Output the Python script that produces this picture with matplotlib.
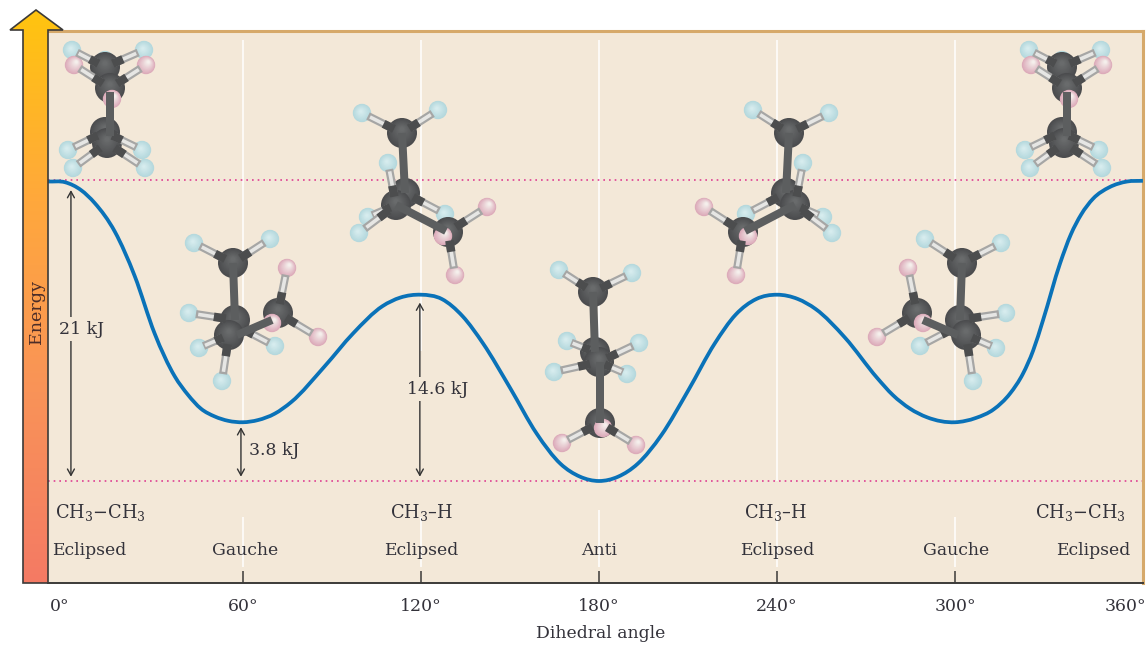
import matplotlib
matplotlib.use("Agg")
import matplotlib.pyplot as plt
import numpy as np
from matplotlib.colors import LinearSegmentedColormap, to_rgb
from matplotlib.patches import Circle, PathPatch, Polygon
from matplotlib.path import Path

plt.rcParams['font.family'] = ['DejaVu Serif']

# curve
angles = [-5.7, 0, 5.4, 10, 16.8, 23.5, 30.2, 37, 41.5, 45.8, 50.5, 55, 60, 65, 70.7, 76.2, 87.5, 97.1,
          107, 113, 120, 127, 134, 140.9, 150, 159, 167, 173.6, 180, 186.4, 193, 201, 210, 219, 226, 233, 240,
          247, 253, 262.9, 273.7, 279, 284.8, 290.5, 300, 307, 313, 318.5, 322.9, 326.3, 329.6, 335.4,
          339, 342.5, 346.5, 352, 358, 363.3]
energy = [20.9, 20.85, 20.3, 19.4, 17.4, 14.3, 10.3, 7.3, 6.0, 5.05, 4.5, 4.2, 4.1, 4.25, 4.7, 5.5, 8.0, 10.3,
          12.2, 12.8, 13.0, 12.7, 11.5, 9.6, 6.5, 3.3, 1.2, 0.3, 0.0, 0.3, 1.2, 3.2, 6.3, 9.6, 11.6, 12.7, 13.0,
          12.7, 12.0, 10.0, 7.2, 6.0, 5.05, 4.45, 4.1, 4.4, 5.0, 6.1, 7.5, 9.1, 11.2, 15.2,
          17.2, 18.6, 19.7, 20.5, 20.9, 20.95]

tick_pos = [-1.7, 60, 120, 180, 240, 300, 357.3]
tick_labels = ["0°", "60°", "120°", "180°", "240°", "300°", "360°"]
conformers = ["Eclipsed", "Gauche", "Eclipsed", "Anti", "Eclipsed", "Gauche", "Eclipsed"]
conformer_pos = [8.3, 60.7, 120, 180, 240, 300.3, 346.5]
groups = ["CH$_{\\mathregular{3}}$−CH$_{\\mathregular{3}}$", "CH$_{\\mathregular{3}}$–H",
          "CH$_{\\mathregular{3}}$–H", "CH$_{\\mathregular{3}}$−CH$_{\\mathregular{3}}$"]
group_pos = [11.8, 120, 239.5, 342.3]

BG = "#f3e8d8"
INK = "#33323a"
W, H = 1146, 645

# molecule drawings, in picture pixels, back to front
eclipsed = [("ch", (105, 67), (72, 50)), ("ch", (105, 67), (144, 50)), ("h", (72, 50)), ("h", (144, 50)),
            ("h", (105, 60)), ("c", (105, 67)),
            ("ch", (110, 88), (74, 65)), ("ch", (110, 88), (146, 65)), ("p", (74, 65)), ("p", (146, 65)),
            ("c", (110, 88)),
            ("ch", (105, 132), (142, 150)), ("ch", (105, 132), (68, 150)), ("h", (142, 150)), ("h", (68, 150)),
            ("ch", (107, 143), (73, 168)), ("ch", (107, 143), (145, 168)), ("h", (73, 168)), ("h", (145, 168)),
            ("c", (105, 132)), ("c", (107, 143)),
            ("cc", (110, 92), (110, 136)), ("p", (112, 99))]
gauche = [("ch", (233, 263), (194, 243)), ("ch", (233, 263), (270, 239)), ("h", (194, 243)), ("h", (270, 239)),
          ("c", (233, 263)), ("cc", (233, 263), (235, 320)),
          ("ch", (235, 320), (189, 313)), ("ch", (235, 325), (275, 346)), ("ch", (229, 335), (199, 348)),
          ("ch", (229, 335), (222, 381)), ("h", (189, 313)), ("h", (275, 346)), ("h", (199, 348)), ("h", (222, 381)),
          ("c", (235, 320)), ("c", (229, 335)),
          ("ch", (278, 313), (287, 268)), ("ch", (278, 313), (318, 337)), ("p", (287, 268)), ("p", (318, 337)),
          ("c", (278, 313)), ("cc", (237, 335), (272, 320)), ("p", (272, 323))]
staggered_120 = [("ch", (402, 133), (362, 113)), ("ch", (402, 133), (438, 110)), ("h", (362, 113)), ("h", (438, 110)),
                 ("c", (402, 133)),
                 ("ch", (396, 205), (388, 163)), ("h", (388, 163)), ("cc", (402, 133), (405, 193)),
                 ("ch", (396, 205), (368, 217)), ("ch", (396, 205), (359, 233)), ("h", (368, 217)), ("h", (359, 233)),
                 ("ch", (405, 193), (445, 214)), ("h", (445, 214)),
                 ("c", (405, 193)), ("c", (396, 205)),
                 ("ch", (448, 232), (487, 207)), ("ch", (448, 232), (455, 275)), ("p", (487, 207)), ("p", (455, 275)),
                 ("c", (448, 232)), ("cc", (396, 205), (446, 231)), ("p", (443, 236))]
anti = [("ch", (593, 292), (559, 270)), ("ch", (593, 292), (632, 273)), ("h", (559, 270)), ("h", (632, 273)),
        ("c", (593, 292)), ("cc", (593, 292), (595, 352)),
        ("ch", (595, 352), (567, 341)), ("ch", (599, 362), (639, 343)), ("ch", (599, 362), (554, 372)),
        ("ch", (599, 362), (627, 374)), ("h", (567, 341)), ("h", (639, 343)), ("h", (554, 372)), ("h", (627, 374)),
        ("c", (595, 352)), ("c", (599, 362)), ("cc", (600, 362), (600, 423)),
        ("ch", (600, 423), (562, 443)), ("ch", (600, 423), (636, 445)), ("p", (562, 443)), ("p", (636, 445)),
        ("c", (600, 423)), ("p", (603, 428))]


def shifted(parts, dx):
    return [(p[0],) + tuple((q[0] + dx, q[1]) for q in p[1:]) for p in parts]


def mirrored(parts, total):
    return [(p[0],) + tuple((total - q[0], q[1]) for q in p[1:]) for p in parts]


def mix(a, b, t):
    a, b = np.array(to_rgb(a)), np.array(to_rgb(b))
    return tuple(a + (b - a) * t)


def ball(ax, x, y, r, edge, core, hx, hy):
    # stacked circles make the shading
    n = 14
    for i in range(n):
        t = i / (n - 1)
        rr = r * (1 - 0.85 * t)
        ax.add_patch(Circle((x + (r - rr) * hx, y + (r - rr) * hy), rr, fc=mix(edge, core, t), ec="none"))


def stick(ax, p, q, color, px, f0=0.0, f1=1.0):
    x0, y0 = p[0] + (q[0] - p[0]) * f0, p[1] + (q[1] - p[1]) * f0
    x1, y1 = p[0] + (q[0] - p[0]) * f1, p[1] + (q[1] - p[1]) * f1
    ax.plot([x0, x1], [y0, y1], color=color, lw=px * 0.72, solid_capstyle="butt")


def draw_molecule(ax, parts):
    for part in parts:
        kind = part[0]
        if kind == "ch":
            stick(ax, part[1], part[2], "#a6a6a5", 8, 0.25, 0.85)
            stick(ax, part[1], part[2], "#e6e6e4", 3.6, 0.42, 0.8)
            stick(ax, part[1], part[2], "#4c4d4e", 8.5, 0.2, 0.46)
        elif kind == "cc":
            stick(ax, part[1], part[2], "#5c5e5f", 8)
        elif kind == "c":
            ball(ax, part[1][0], part[1][1], 15, "#4b4c4e", "#696b6c", 0.0, -0.3)
        elif kind == "h":
            ball(ax, part[1][0], part[1][1], 9.2, "#b4d8dd", "#d6ecee", -0.15, -0.2)
        elif kind == "p":
            ball(ax, part[1][0], part[1][1], 9.2, "#dcaab9", "#f5efec", 0.3, -0.4)


def curve_path(xs, ys):
    # smooth line through the read points, as Bezier pieces
    xs, ys = np.array(xs, float), np.array(ys, float)
    slope = np.gradient(ys, xs)
    verts = [(xs[0], ys[0])]
    codes = [Path.MOVETO]
    for i in range(len(xs) - 1):
        h = xs[i + 1] - xs[i]
        verts += [(xs[i] + h / 3, ys[i] + slope[i] * h / 3),
                  (xs[i + 1] - h / 3, ys[i + 1] - slope[i + 1] * h / 3),
                  (xs[i + 1], ys[i + 1])]
        codes += [Path.CURVE4, Path.CURVE4, Path.CURVE4]
    return Path(verts, codes)


def main():
    fig = plt.figure(figsize=(W / 100, H / 100), dpi=100)
    ax = fig.add_axes([48 / W, 1 - 583 / H, (1143 - 48) / W, (583 - 31) / H])
    ax.set_xlim((48 - 65) / 2.967, (1143 - 65) / 2.967)
    ax.set_ylim((481 - 583) / 14.33, (481 - 31) / 14.33)
    ax.set_facecolor(BG)

    for side in ["top", "right"]:
        ax.spines[side].set_color("#d6a96a")
        ax.spines[side].set_linewidth(2.2)
    ax.spines["left"].set_visible(False)
    ax.spines["bottom"].set_color("#3c3a38")
    ax.spines["bottom"].set_linewidth(1.4)

    # white guide lines, broken where the arrows and labels sit
    ax.vlines([60, 120, 180, 240, 300], 9.1, 30.8, color="white", lw=1.1, zorder=1)
    ax.vlines([180, 240], 0, 9.1, color="white", lw=1.1, zorder=1)
    ax.vlines([60, 180, 300], 4.1, 9.1, color="white", lw=1.1, zorder=1)
    ax.vlines([60, 120, 300], -6.0, -2.5, color="white", lw=1.1, zorder=1)
    ax.vlines([180, 240], -6.0, -2.0, color="white", lw=1.1, zorder=1)

    ax.axhline(21, color="#de3f92", lw=1.2, ls=(0, (1, 2.4)), zorder=2)
    ax.axhline(0, color="#de3f92", lw=1.2, ls=(0, (1, 2.4)), zorder=2)
    ax.add_patch(PathPatch(curve_path(angles, energy), fc="none", ec="#0a72b8", lw=2.7, zorder=3))

    ax.set_xticks(tick_pos, tick_labels)
    ax.tick_params(axis="x", direction="in", length=9, width=1.1, color="#3c3a38",
                   labelsize=12.4, labelcolor=INK, pad=11)
    for i in [0, 6]:
        ax.xaxis.get_major_ticks()[i].tick1line.set_visible(False)
    ax.set_yticks([])
    ax.set_xlabel("Dihedral angle", fontsize=12.4, color=INK, labelpad=7, x=(601 - 48) / (1143 - 48))

    for a, t in zip(conformer_pos, conformers):
        ax.text(a, -4.88, t, ha="center", va="center", fontsize=12.4, color=INK, zorder=5)
    for a, t in zip(group_pos, groups):
        ax.text(a, -2.2, t, ha="center", va="center", fontsize=12.8, color=INK, zorder=5)

    # dimension arrows
    arrow = dict(arrowstyle="<->,head_length=0.45,head_width=0.25", color="#333333", lw=1.0,
                 shrinkA=0, shrinkB=0)
    ax.annotate("", (2, 20.3), (2, 0.3), arrowprops=arrow, zorder=4)
    ax.annotate("", (59.3, 3.75), (59.3, 0.3), arrowprops=arrow, zorder=4)
    ax.annotate("", (119.6, 12.45), (119.6, 0.3), arrowprops=arrow, zorder=4)
    box = dict(fc=BG, ec="none", pad=2.5)
    ax.text(5.7, 10.6, "21 kJ", ha="center", va="center", fontsize=12.4, color=INK, bbox=box, zorder=5)
    ax.text(62, 2.1, "3.8 kJ", ha="left", va="center", fontsize=12.4, color=INK, zorder=5)
    ax.text(125.5, 6.4, "14.6 kJ", ha="center", va="center", fontsize=12.4, color=INK, bbox=box, zorder=5)

    # overlay in picture pixels for the energy arrow and the ball and stick models
    top = fig.add_axes([0, 0, 1, 1], facecolor="none")
    top.set_axis_off()
    shape = Polygon([(23, 583), (23, 30), (10, 30), (36, 10), (63, 30), (48, 30), (48, 583)], closed=True,
                    fc="none", ec="#3c3a38", lw=1.2, zorder=3, joinstyle="miter")
    cmap = LinearSegmentedColormap.from_list("energy", ["#ffc40f", "#ffa83c", "#f99358", "#f47a64"])
    grad = np.linspace(0, 1, 256).reshape(-1, 1)
    img = top.imshow(grad, cmap=cmap, extent=(10, 63, 583, 10), aspect="auto", zorder=2)
    top.add_patch(shape)
    img.set_clip_path(shape)
    top.text(36, 312, "Energy", rotation=90, ha="center", va="center", fontsize=12.6, color="#4a2c28", zorder=4)

    draw_molecule(top, eclipsed)
    draw_molecule(top, shifted(eclipsed, 957))
    draw_molecule(top, gauche)
    draw_molecule(top, mirrored(gauche, 1195))
    draw_molecule(top, staggered_120)
    draw_molecule(top, mirrored(staggered_120, 1191))
    draw_molecule(top, anti)

    top.set_xlim(0, W)
    top.set_ylim(H, 0)
    fig.savefig("out.png", dpi=100)


if __name__ == '__main__':
    main()
